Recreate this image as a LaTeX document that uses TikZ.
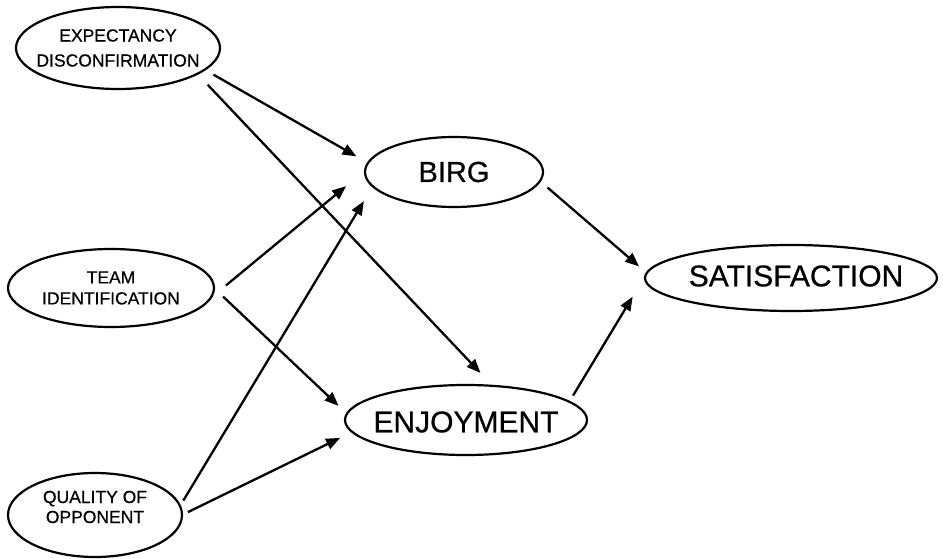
\documentclass[tikz,border=0pt]{standalone}
\usepackage{fontspec}
\setmainfont{Liberation Sans}
\newfontfamily\scanfont{Liberation Sans}[FakeBold=0.6]
\usetikzlibrary{shapes.geometric,arrows.meta}
\begin{document}
\begin{tikzpicture}[x=1pt,y=-1pt,
  oval/.style={ellipse, draw, line width=2.2pt, inner sep=0pt, outer sep=0pt},
  lbl/.style={inner sep=0pt, align=center, text=black},
  conn/.style={line width=2.3pt, -{Triangle[length=14pt,width=11pt]}}
]
\useasboundingbox (0,0) rectangle (943,559);
\node[oval, minimum width=204pt, minimum height=82pt,
  label={[lbl, font=\scanfont\fontsize{17.5}{25}\selectfont]center:EXPECTANCY\\DISCONFIRMATION}] (exp) at (118,48) {};
\node[oval, minimum width=206pt, minimum height=78pt,
  label={[lbl, font=\scanfont\fontsize{17.5}{21}\selectfont]center:TEAM\\IDENTIFICATION}] (team) at (111,288) {};
\node[oval, minimum width=174pt, minimum height=84pt,
  label={[lbl, yshift=8pt, font=\scanfont\fontsize{17.5}{20}\selectfont]center:QUALITY OF\\OPPONENT}] (qual) at (95,515) {};
\node[oval, minimum width=178pt, minimum height=70pt,
  label={[lbl, font=\scanfont\fontsize{29}{34}\selectfont]center:BIRG}] (birg) at (454,172) {};
\node[oval, minimum width=242pt, minimum height=70pt,
  label={[lbl, yshift=-2pt, font=\scanfont\fontsize{30}{36}\selectfont]center:ENJOYMENT}] (enj) at (466,420) {};
\node[oval, minimum width=292pt, minimum height=66pt,
  label={[lbl, xshift=5pt, yshift=2pt, font=\scanfont\fontsize{30}{36}\selectfont]center:SATISFACTION}] (sat) at (791,278) {};

\draw[conn, shorten <=10pt, shorten >=13.3pt] (exp.-14.3) -- (birg.174.5);
\draw[conn, shorten <=15pt, shorten >=17.7pt] (exp.-18.3) -- (enj.52.5);
\draw[conn, shorten <=20.3pt, shorten >=24.6pt] (team.-6.9) -- (birg.179.5);
\draw[conn, shorten <=12.5pt, shorten >=11.5pt] (team.0.4) -- (enj.177.6);
\draw[conn, shorten <=6.4pt, shorten >=17.2pt] (qual.6.4) -- (birg.190.8);
\draw[conn, shorten <=6.5pt, shorten >=13.5pt] (qual.0.3) -- (enj.186.9);
\draw[conn, shorten <=10pt, shorten >=10pt] (birg.-6.3) -- (sat.178.7);
\draw[conn, shorten <=7.2pt, shorten >=24.7pt] (enj.10.4) -- (sat.179.6);
\end{tikzpicture}
\end{document}
